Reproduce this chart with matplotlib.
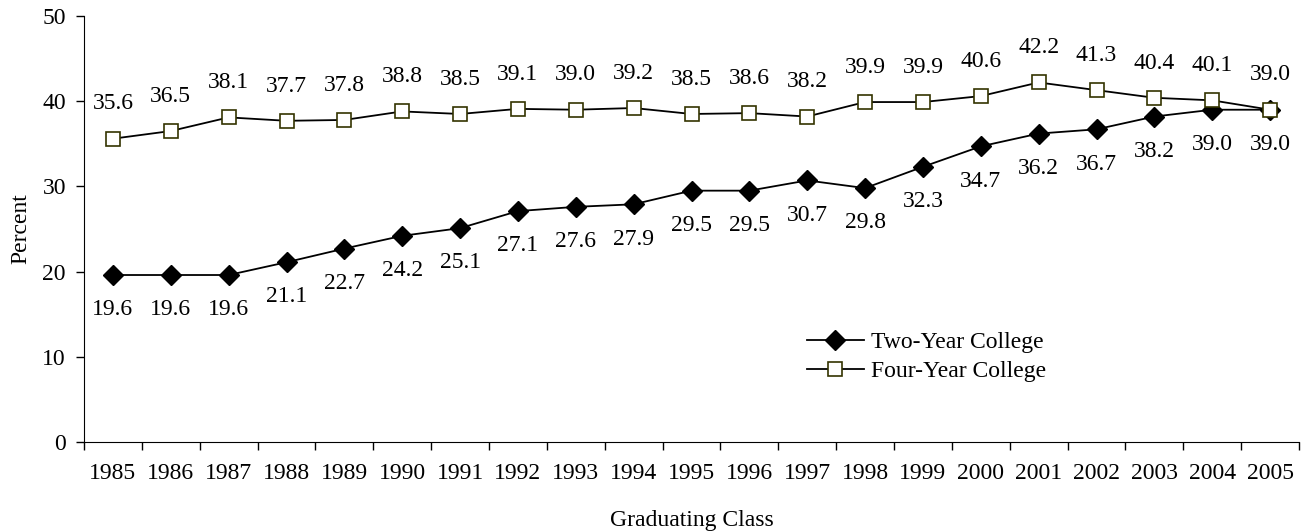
import matplotlib.pyplot as plt
import numpy as np

years = [str(y) for y in range(1985, 2006)]
two_year = [19.6, 19.6, 19.6, 21.1, 22.7, 24.2, 25.1, 27.1, 27.6, 27.9, 29.5,
            29.5, 30.7, 29.8, 32.3, 34.7, 36.2, 36.7, 38.2, 39.0, 39.0]
four_year = [35.6, 36.5, 38.1, 37.7, 37.8, 38.8, 38.5, 39.1, 39.0, 39.2, 38.5,
             38.6, 38.2, 39.9, 39.9, 40.6, 42.2, 41.3, 40.4, 40.1, 39.0]

plt.rcParams['font.family'] = ['Liberation Serif', 'DejaVu Serif']
plt.rcParams['font.size'] = 17

fig = plt.figure(figsize=(13.01, 5.31), dpi=100)
ax = fig.add_axes([84 / 1301, 89 / 531, 1215 / 1301, 426 / 531])

x = np.arange(len(years))
ax.plot(x, two_year, color='black', lw=1.3, marker='D', markersize=10,
        markerfacecolor='black', markeredgecolor='black', label='Two-Year College')
ax.plot(x, four_year, color='black', lw=1.3, marker='s', markersize=10.5,
        markerfacecolor='white', markeredgecolor='#333300', markeredgewidth=1.2,
        label='Four-Year College')

# data labels: four-year above, two-year below
for i in range(len(years)):
    ax.annotate(f'{four_year[i]:.1f}', (x[i], four_year[i]), xytext=(0, 25),
                textcoords='offset points', ha='center', va='center')
    ax.annotate(f'{two_year[i]:.1f}', (x[i], two_year[i]), xytext=(0, -25),
                textcoords='offset points', ha='center', va='center')

ax.set_xlim(-0.5, len(years) - 0.5)
ax.set_ylim(0, 50)
ax.set_yticks(range(0, 51, 10))

# category ticks sit between the labels
ax.set_xticks(np.arange(-0.5, len(years), 1.0))
ax.set_xticklabels([])
ax.set_xticks(x, minor=True)
ax.set_xticklabels(years, minor=True)
ax.tick_params(axis='x', which='major', direction='out', length=6, width=1)
ax.tick_params(axis='x', which='minor', length=0, pad=15)
ax.tick_params(axis='y', direction='out', length=6, width=1, pad=7)

for side in ['top', 'right']:
    ax.spines[side].set_visible(False)

ax.set_ylabel('Percent', labelpad=8)
ax.set_xlabel('Graduating Class', labelpad=19)

fig.legend(loc='center left', bbox_to_anchor=(807 / 1301, 1 - 357 / 531),
           frameon=False, borderpad=0, borderaxespad=0, handlelength=2.4,
           handletextpad=0.3, labelspacing=0.3)

fig.savefig('out.png', dpi=100)
